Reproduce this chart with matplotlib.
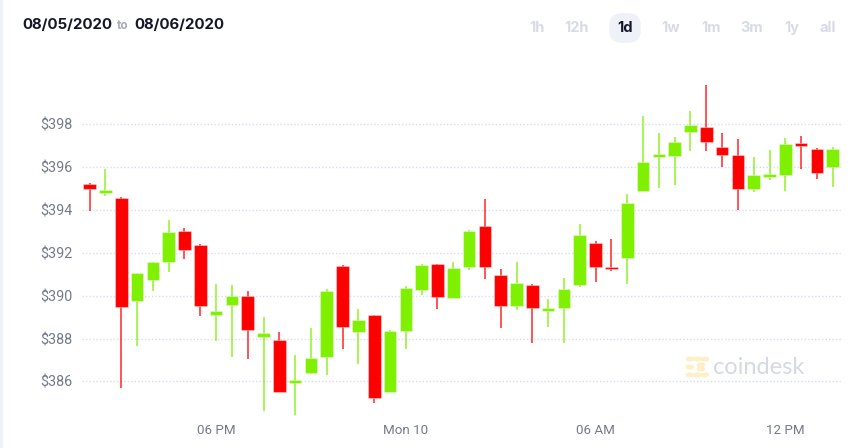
import matplotlib

matplotlib.use("Agg")

import matplotlib.pyplot as plt  # noqa: E402
import numpy as np  # noqa: E402
from matplotlib.patches import Circle, Rectangle  # noqa: E402

W, H = 866, 448

# 30-minute candles, Sun 14:00 -> Mon 13:30
opens = [395.20, 394.80, 394.58, 389.75, 390.72, 391.59, 393.03, 392.35,
         389.10, 389.55, 389.99, 388.06, 387.92, 385.91, 386.38, 387.16,
         391.40, 388.29, 389.09, 385.52, 388.37, 390.27, 391.48, 389.91,
         391.35, 393.25, 390.98, 389.54, 390.52, 389.27, 389.44, 390.51,
         392.48, 391.33, 391.75, 394.87, 396.46, 396.53, 397.63, 397.87,
         396.95, 396.57, 394.98, 395.56, 395.62, 397.11, 396.85, 395.99]
highs = [395.25, 395.90, 394.60, 391.05, 391.57, 393.53, 393.15, 392.40,
         390.55, 390.50, 390.22, 389.00, 388.31, 387.22, 388.51, 390.30,
         391.43, 389.40, 389.10, 388.40, 390.45, 391.50, 391.50, 391.57,
         393.07, 394.51, 391.25, 391.56, 390.55, 389.83, 390.81, 393.35,
         392.55, 392.63, 394.73, 398.40, 397.58, 397.42, 398.61, 399.83,
         397.59, 397.31, 396.46, 396.80, 397.38, 397.45, 396.89, 396.94]
lows = [393.95, 394.67, 385.68, 387.67, 390.24, 391.12, 391.71, 389.07,
        387.90, 387.13, 387.03, 384.64, 385.52, 384.45, 386.33, 386.29,
        387.53, 386.83, 385.00, 385.50, 387.50, 390.03, 389.37, 389.91,
        391.20, 390.80, 388.48, 389.32, 387.78, 388.53, 387.78, 390.41,
        390.63, 391.17, 390.56, 394.87, 395.01, 395.17, 396.77, 396.77,
        396.02, 394.00, 394.84, 395.40, 394.89, 395.91, 395.43, 395.09]
closes = [395.00, 394.93, 389.49, 391.05, 391.57, 392.97, 392.12, 389.52,
          389.29, 390.00, 388.39, 388.28, 385.52, 386.05, 387.11, 390.22,
          388.56, 388.85, 385.21, 388.35, 390.35, 391.43, 389.93, 391.28,
          393.03, 391.33, 389.52, 390.58, 389.45, 389.41, 390.31, 392.83,
          391.35, 391.23, 394.33, 396.23, 396.61, 397.16, 397.98, 397.19,
          396.55, 394.98, 395.62, 395.59, 397.08, 396.99, 395.74, 396.83]

y_ticks = [386, 388, 390, 392, 394, 396, 398]
x_tick_pos = [8, 20, 32, 44]
x_tick_labels = ["06 PM", "Mon 10", "06 AM", "12 PM"]
ranges = ["1h", "12h", "1d", "1w", "1m", "3m", "1y", "all"]

UP, DOWN = "#7ef000", "#ff0000"


def fx(px):
    return px / W


def fy(py):
    return 1 - py / H


fig = plt.figure(figsize=(W / 100, H / 100), dpi=100)
ax = fig.add_axes([fx(81.7), fy(420), (840.7 - 81.7) / W, (420 - 75) / H])

o = np.array(opens)
c = np.array(closes)
x = np.arange(len(o))
cols = [UP if cc >= oo else DOWN for oo, cc in zip(o, c)]
bottoms = np.minimum(o, c)
heights = np.maximum(np.abs(c - o), 0.1)

ax.vlines(x, lows, highs, colors=cols, linewidth=1.1, alpha=0.85, zorder=2)
ax.bar(x, heights, bottom=bottoms, width=0.8, color=cols,
       edgecolor=[(1, 1, 1, 0.35)] * len(x), linewidth=0.8, zorder=3)

ax.set_xlim(-0.5, 47.5)
ax.set_ylim(384.2, 400.3)
ax.set_yticks(y_ticks)
ax.set_yticklabels([f"${v}" for v in y_ticks])
ax.set_xticks(x_tick_pos)
ax.set_xticklabels(x_tick_labels)
ax.grid(axis="y", color="#d6ddef", linestyle=(0, (1, 1.5)), linewidth=1, zorder=1)
ax.tick_params(length=0, colors="#747a8a", labelsize=10.4, pad=6.5)
ax.tick_params(axis="x", labelsize=9.6, pad=3)
for lab in ax.get_xticklabels() + ax.get_yticklabels():
    lab.set_family("Roboto")
for s in ax.spines.values():
    s.set_visible(False)

# watermark
fig.text(fx(713), fy(368), "coindesk", fontsize=17, color="#d6d9e1",
         family="Lato", va="center", ha="left", zorder=0)
for cx, cy in [(690, 359), (697.5, 359), (705, 359), (690, 367), (690, 375),
               (697.5, 375), (705, 375), (701, 365), (701, 369)]:
    fig.patches.append(Circle((fx(cx), fy(cy)), 3.6 / W, transform=fig.transFigure,
                              color="#fdf0c6", zorder=0))

# left strip
fig.patches.append(Rectangle((0, 0), 2 / W, 1, transform=fig.transFigure,
                             color="#eef2f7"))

# header
fig.text(fx(22.7), fy(25), "08/05/2020", fontsize=10.8, weight="bold",
         color="#16162a", family="Inter", va="center")
fig.text(fx(117), fy(26), "to", fontsize=8.5, weight="bold", color="#a8abb8",
         family="Inter", va="center")
fig.text(fx(134), fy(25), "08/06/2020", fontsize=10.8, weight="bold",
         color="#16162a", family="Inter", va="center")

range_x = [536.7, 577, 625, 670.7, 710.7, 752, 792, 827.3]
for xx, lab in zip(range_x, ranges):
    sel = lab == "1d"
    fig.text(fx(xx), fy(28), lab, fontsize=10.5, weight="bold", ha="center",
             va="center", family="Inter",
             color="#16162a" if sel else "#d8dbe6",
             bbox=dict(boxstyle="round,pad=0.55,rounding_size=0.9",
                       facecolor="#eef2f8", edgecolor="none") if sel else None)

fig.savefig("out.png", dpi=100)
